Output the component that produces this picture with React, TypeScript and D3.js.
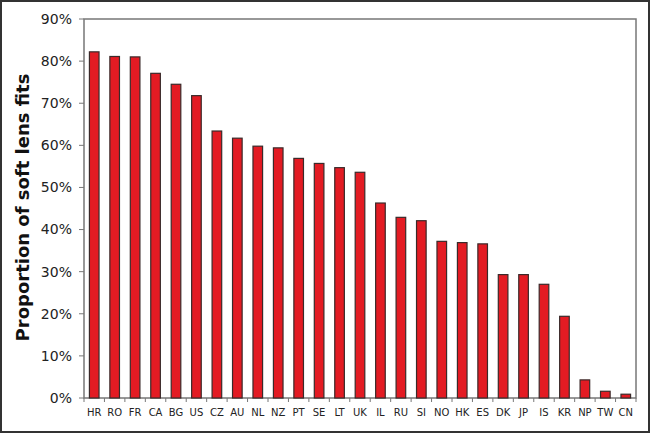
import React from "react";
import * as d3 from "d3";

const categories = ["HR","RO","FR","CA","BG","US","CZ","AU","NL","NZ","PT","SE","LT","UK","IL","RU","SI","NO","HK","ES","DK","JP","IS","KR","NP","TW","CN"];
const values = [82.2,81.1,81.0,77.1,74.5,71.8,63.4,61.7,59.8,59.4,56.9,55.7,54.7,53.6,46.3,42.9,42.1,37.2,36.9,36.6,29.3,29.3,27.0,19.4,4.3,1.6,0.9];
const yTicks = [0,10,20,30,40,50,60,70,80,90];
const yTitle = "Proportion of soft lens fits";

export default function App() {
  const W = 650, H = 433;
  const left = 84, right = 636, top = 19, bottom = 398;
  const x = d3.scaleBand<string>().domain(categories).range([left, right]).paddingInner(0.53).paddingOuter(0.265);
  const xb = d3.scaleBand<string>().domain(categories).range([left, right]);
  const y = d3.scaleLinear().domain([0, 90]).range([bottom, top]);
  const font = "Verdana, 'DejaVu Sans', sans-serif";
  return (
    <svg width={W} height={H} style={{ position: "absolute", left: 0, top: 0 }}>
      <rect x={0} y={0} width={W} height={H} fill="#fff" />
      <rect x={1} y={1} width={W - 2} height={H - 2} fill="none" stroke="#333" strokeWidth={2} />
      <rect x={left} y={top} width={right - left} height={bottom - top} fill="none" stroke="#777" strokeWidth={1.5} />
      {categories.map((c, i) => (
        <rect key={c} x={x(c)} y={y(values[i])} width={x.bandwidth()} height={bottom - y(values[i])}
          fill="#e31b23" stroke="#3a2a2a" strokeWidth={1.2} />
      ))}
      {yTicks.map(t => (
        <g key={t}>
          <line x1={left - 5} x2={left} y1={y(t)} y2={y(t)} stroke="#777" strokeWidth={1} />
          <text x={72} y={y(t)} dy="0.35em" textAnchor="end" fontFamily={font} fontSize={14} fill="#222">{t}%</text>
        </g>
      ))}
      {categories.map((c, i) => (
        <g key={"t" + c}>
          <line x1={(xb(c) as number)} x2={(xb(c) as number)} y1={bottom} y2={bottom + 4} stroke="#777" strokeWidth={1} />
          <text x={(xb(c) as number) + xb.bandwidth() / 2} y={416} textAnchor="middle" fontFamily={font} fontSize={10} fill="#222">{c}</text>
        </g>
      ))}
      <line x1={right} x2={right} y1={bottom} y2={bottom + 4} stroke="#777" strokeWidth={1} />
      <text transform={`translate(29,${(top + bottom) / 2 - 1}) rotate(-90)`} textAnchor="middle" fontFamily={font} fontWeight="bold" fontSize={18} fill="#111">{yTitle}</text>
    </svg>
  );
}
